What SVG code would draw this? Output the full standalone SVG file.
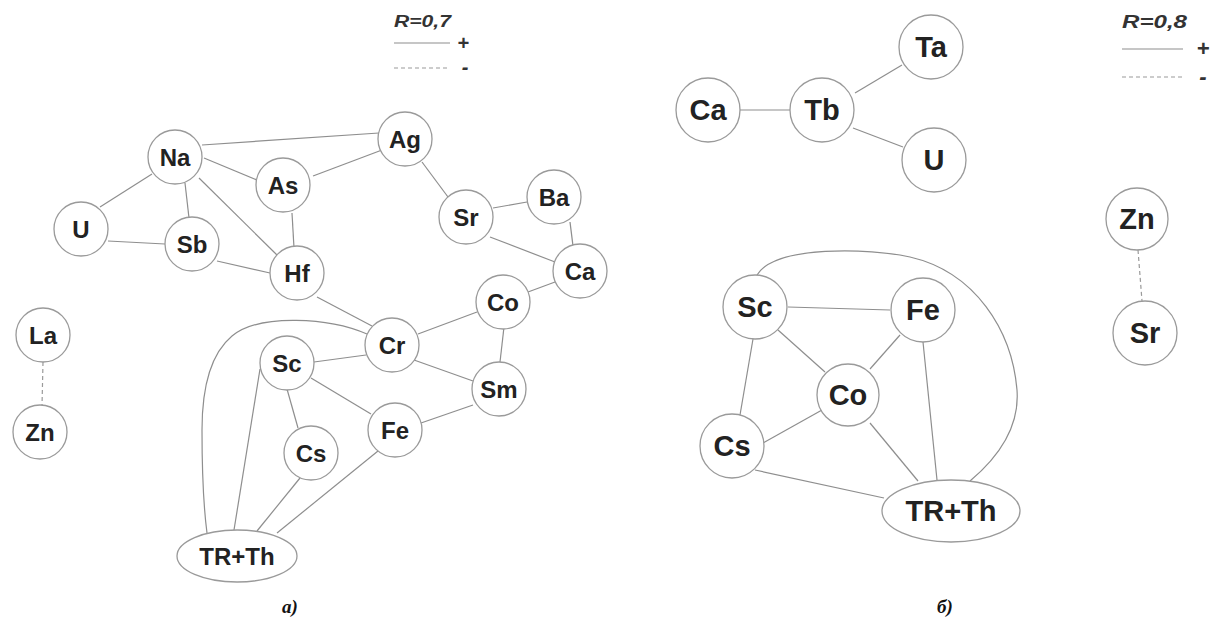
<svg xmlns="http://www.w3.org/2000/svg" width="1215" height="619" viewBox="0 0 1215 619">
<style>
.e{stroke:#8e8e8e;stroke-width:1.2;fill:none}
.d{stroke:#9a9a9a;stroke-width:1.2;fill:none;stroke-dasharray:4,3}
.n{fill:#fff;stroke:#9a9a9a;stroke-width:1.3}
.t{font-family:"Liberation Sans",Arial,sans-serif;font-weight:bold;fill:#222;text-anchor:middle}
.l{font-size:24px}
.r{font-size:29px}
.lg{font-family:"Liberation Sans",Arial,sans-serif;font-weight:bold;font-style:italic;fill:#333}
.cap{font-family:"Liberation Serif","Times New Roman",serif;font-weight:bold;font-style:italic;font-size:19px;fill:#111}
</style>
<rect width="1215" height="619" fill="#fff"/>
<g id="connectors">
<line class="e" x1="202" y1="145" x2="379" y2="133"/>
<line class="e" x1="204" y1="158" x2="257" y2="180"/>
<line class="e" x1="313" y1="176" x2="382" y2="150"/>
<line class="e" x1="152" y1="174" x2="100" y2="207"/>
<line class="e" x1="185" y1="183" x2="189" y2="218"/>
<line class="e" x1="199" y1="178" x2="277" y2="255"/>
<line class="e" x1="292" y1="213" x2="294" y2="248"/>
<line class="e" x1="108" y1="241" x2="165" y2="244"/>
<line class="e" x1="217" y1="261" x2="270" y2="273"/>
<line class="e" x1="317" y1="297" x2="372" y2="326"/>
<line class="e" x1="422" y1="162" x2="448" y2="197"/>
<line class="e" x1="493" y1="208" x2="527" y2="202"/>
<line class="e" x1="490" y1="237" x2="555" y2="262"/>
<line class="e" x1="570" y1="222" x2="573" y2="246"/>
<line class="e" x1="555" y1="282" x2="528" y2="292"/>
<line class="e" x1="477" y1="312" x2="418" y2="334"/>
<line class="e" x1="504" y1="327" x2="500" y2="362"/>
<line class="e" x1="414" y1="360" x2="473" y2="381"/>
<line class="e" x1="366" y1="355" x2="314" y2="362"/>
<line class="e" x1="311" y1="378" x2="371" y2="414"/>
<line class="e" x1="287" y1="389" x2="298" y2="428"/>
<line class="e" x1="260" y1="369" x2="234" y2="530"/>
<line class="e" x1="421" y1="423" x2="473" y2="405"/>
<line class="e" x1="378" y1="451" x2="277" y2="533"/>
<line class="e" x1="300" y1="478" x2="257" y2="531"/>
<path class="e" d="M367,334 C330,318 260,313 232,336 C208,356 202,392 202,430 C202,480 204,510 207,533"/>
<line class="d" x1="43" y1="362" x2="42" y2="406"/>
<line class="e" x1="740" y1="110" x2="790" y2="110"/>
<line class="e" x1="855" y1="93" x2="902" y2="65"/>
<line class="e" x1="853" y1="128" x2="903" y2="147"/>
<line class="e" x1="788" y1="307" x2="890" y2="310"/>
<line class="e" x1="778" y1="330" x2="825" y2="372"/>
<line class="e" x1="753" y1="339" x2="740" y2="415"/>
<line class="e" x1="900" y1="335" x2="870" y2="369"/>
<line class="e" x1="923" y1="342" x2="937" y2="480"/>
<line class="e" x1="822" y1="410" x2="763" y2="443"/>
<line class="e" x1="870" y1="423" x2="918" y2="481"/>
<line class="e" x1="755" y1="470" x2="884" y2="498"/>
<path class="e" d="M757,275 C775,245 870,248 910,257 C975,272 1012,330 1017,390 C1020,430 995,460 970,481"/>
<line class="d" x1="1138" y1="250" x2="1142" y2="301"/>
</g>
<g id="legend-a">
<text class="lg" x="394" y="27" font-size="16" textLength="57" lengthAdjust="spacingAndGlyphs">R=0,7</text>
<line class="e" x1="394" y1="43" x2="450" y2="43"/>
<text class="lg" x="463" y="50" font-size="20" font-style="normal" text-anchor="middle">+</text>
<line class="d" x1="394" y1="68" x2="450" y2="68"/>
<text class="lg" x="465" y="74" font-size="20" font-style="normal" text-anchor="middle">-</text>
</g>
<g id="legend-b">
<text class="lg" x="1122" y="28" font-size="19" textLength="65" lengthAdjust="spacingAndGlyphs">R=0,8</text>
<line class="e" x1="1122" y1="49" x2="1183" y2="49"/>
<text class="lg" x="1203" y="56" font-size="22" font-style="normal" text-anchor="middle">+</text>
<line class="d" x1="1122" y1="77" x2="1183" y2="77"/>
<text class="lg" x="1203" y="84" font-size="22" font-style="normal" text-anchor="middle">-</text>
</g>
<g id="a-Na"><circle class="n" cx="175" cy="157" r="27"/><text class="t l" x="175" y="166">Na</text></g>
<g id="a-As"><circle class="n" cx="283" cy="185" r="27"/><text class="t l" x="283" y="194">As</text></g>
<g id="a-U"><circle class="n" cx="81" cy="229" r="27"/><text class="t l" x="81" y="238">U</text></g>
<g id="a-Sb"><circle class="n" cx="192" cy="244" r="27"/><text class="t l" x="192" y="253">Sb</text></g>
<g id="a-Hf"><circle class="n" cx="297" cy="273" r="27"/><text class="t l" x="297" y="282">Hf</text></g>
<g id="a-Ag"><circle class="n" cx="405" cy="139" r="27"/><text class="t l" x="405" y="148">Ag</text></g>
<g id="a-Sr"><circle class="n" cx="466" cy="217" r="27"/><text class="t l" x="466" y="226">Sr</text></g>
<g id="a-Ba"><circle class="n" cx="554" cy="197" r="27"/><text class="t l" x="554" y="206">Ba</text></g>
<g id="a-Ca"><circle class="n" cx="580" cy="271" r="27"/><text class="t l" x="580" y="280">Ca</text></g>
<g id="a-Co"><circle class="n" cx="503" cy="302" r="27"/><text class="t l" x="503" y="311">Co</text></g>
<g id="a-Cr"><circle class="n" cx="392" cy="345" r="27"/><text class="t l" x="392" y="354">Cr</text></g>
<g id="a-Sc"><circle class="n" cx="287" cy="363" r="27"/><text class="t l" x="287" y="372">Sc</text></g>
<g id="a-Sm"><circle class="n" cx="499" cy="389" r="27"/><text class="t l" x="499" y="398">Sm</text></g>
<g id="a-Fe"><circle class="n" cx="395" cy="430" r="27"/><text class="t l" x="395" y="439">Fe</text></g>
<g id="a-Cs"><circle class="n" cx="311" cy="453" r="27"/><text class="t l" x="311" y="462">Cs</text></g>
<g id="a-La"><circle class="n" cx="43" cy="335" r="27"/><text class="t l" x="43" y="344">La</text></g>
<g id="a-Zn"><circle class="n" cx="40" cy="432" r="27"/><text class="t l" x="40" y="441">Zn</text></g>
<g id="a-TRTh"><ellipse class="n" cx="237" cy="556" rx="60" ry="26"/><text class="t l" x="237" y="565">TR+Th</text></g>
<g id="b-Ca"><circle class="n" cx="708" cy="110" r="32"/><text class="t r" x="708" y="120">Ca</text></g>
<g id="b-Tb"><circle class="n" cx="822" cy="110" r="32"/><text class="t r" x="822" y="120">Tb</text></g>
<g id="b-Ta"><circle class="n" cx="931" cy="47" r="32"/><text class="t r" x="931" y="57">Ta</text></g>
<g id="b-U"><circle class="n" cx="934" cy="160" r="32"/><text class="t r" x="934" y="170">U</text></g>
<g id="b-Sc"><circle class="n" cx="755" cy="307" r="32"/><text class="t r" x="755" y="317">Sc</text></g>
<g id="b-Fe"><circle class="n" cx="923" cy="310" r="32"/><text class="t r" x="923" y="320">Fe</text></g>
<g id="b-Co"><circle class="n" cx="848" cy="395" r="31"/><text class="t r" x="848" y="405">Co</text></g>
<g id="b-Cs"><circle class="n" cx="732" cy="446" r="32"/><text class="t r" x="732" y="456">Cs</text></g>
<g id="b-TRTh"><ellipse class="n" cx="951" cy="511" rx="69" ry="31"/><text class="t r" x="951" y="521">TR+Th</text></g>
<g id="b-Zn"><circle class="n" cx="1137" cy="219" r="31"/><text class="t r" x="1137" y="229">Zn</text></g>
<g id="b-Sr"><circle class="n" cx="1145" cy="333" r="32"/><text class="t r" x="1145" y="343">Sr</text></g>
<text class="cap" x="282" y="613">a)</text>
<text class="cap" x="937" y="613">б)</text>
</svg>
